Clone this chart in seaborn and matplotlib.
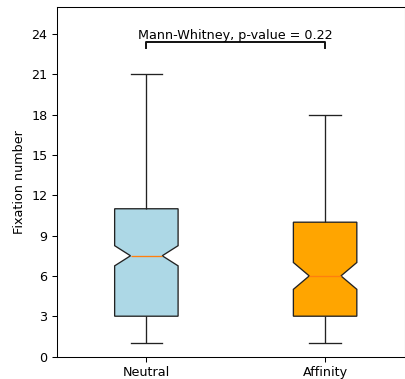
import numpy as np
import pandas as pd
import matplotlib
matplotlib.use("Agg")
import matplotlib.pyplot as plt
import seaborn as sns

# Fixation number values and how often each occurs, per condition
categories = ["Neutral", "Affinity"]
neutral_values = [1, 2, 3, 4, 5, 6, 7, 8, 9, 10, 11, 12, 13, 14, 15, 16, 17, 18, 19, 20, 21]
neutral_counts = [20, 30, 30, 15, 15, 15, 15, 15, 20, 20, 20, 12, 10, 9, 8, 7, 6, 5, 4, 3, 1]
affinity_values = [1, 2, 3, 4, 5, 6, 7, 8, 9, 10, 11, 12, 13, 14, 15, 16, 17, 18]
affinity_counts = [10, 15, 15, 10, 10, 8, 8, 6, 5, 6, 6, 5, 4, 4, 3, 3, 2, 1]
box_colors = ["lightblue", "orange"]
yticks = [0, 3, 6, 9, 12, 15, 18, 21, 24]
test_label = "Mann-Whitney, p-value = 0.22"

neutral = np.repeat(neutral_values, neutral_counts)
affinity = np.repeat(affinity_values, affinity_counts)
df = pd.DataFrame({
    "group": [categories[0]] * len(neutral) + [categories[1]] * len(affinity),
    "value": np.concatenate([neutral, affinity]),
})

plt.rcParams["font.size"] = 9.2
plt.rcParams["axes.linewidth"] = 0.75
plt.rcParams["xtick.major.width"] = 0.75
plt.rcParams["ytick.major.width"] = 0.75
plt.rcParams["xtick.major.size"] = 3.3
plt.rcParams["ytick.major.size"] = 3.3

fig = plt.figure(figsize=(4.06, 3.79), dpi=100)
ax = fig.add_axes([57 / 406, 1 - 356.5 / 379, 348 / 406, 349.2 / 379])

sns.boxplot(data=df, x="group", y="value", hue="group", palette=box_colors,
            order=categories, hue_order=categories,
            notch=True, width=0.355, saturation=1, linecolor="#222222",
            linewidth=0.95, medianprops={"color": "C1"}, legend=False, ax=ax)

ax.set_xlim(-0.5, 1.447)
ax.set_ylim(0, 26)
ax.set_yticks(yticks)
ax.set_xlabel("")
ax.set_ylabel("Fixation number")

# significance bracket
ax.plot([0, 0, 1, 1], [23.0, 23.4, 23.4, 23.0], color="#111111", lw=1.4)
ax.text(0.5, 23.45, test_label, ha="center", va="bottom", fontsize=9.2)

fig.savefig("out.png", dpi=100)
